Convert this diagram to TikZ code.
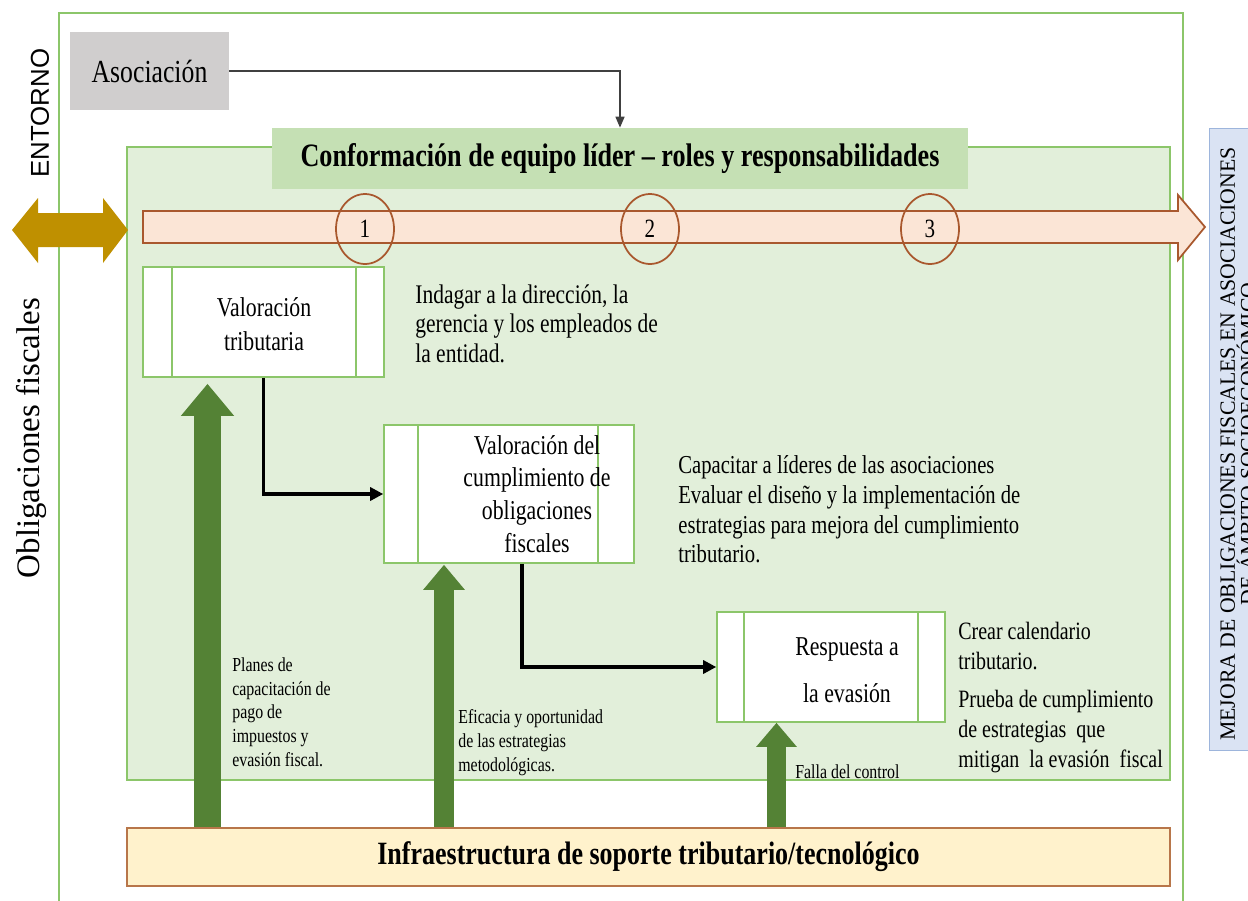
\documentclass[tikz,border=0pt]{standalone}
\usepackage{fontspec}
\setmainfont[FakeStretch=0.8]{Liberation Serif}
\newfontfamily\rectoserif{Liberation Serif}
\newfontfamily\rectosans{Liberation Sans}
\usepackage{tikz}
\usetikzlibrary{calc,positioning,shapes.geometric,arrows.meta}

\definecolor{marcoverde}{HTML}{8CC66A}
\definecolor{panelverde}{HTML}{E2EFDA}
\definecolor{tituloverde}{HTML}{C5E0B4}
\definecolor{grisasoc}{HTML}{D0CECE}
\definecolor{oro}{HTML}{BF9000}
\definecolor{rosa}{HTML}{FBE5D6}
\definecolor{cafe}{HTML}{A9582E}
\definecolor{verdeosc}{HTML}{548235}
\definecolor{crema}{HTML}{FFF2CC}
\definecolor{cafeclaro}{HTML}{B8764A}
\definecolor{azulclaro}{HTML}{DAE3F3}
\definecolor{azulborde}{HTML}{9DB5DC}

\tikzset{
  proceso/.style={draw=marcoverde,fill=white,line width=0.9pt},
  textobox/.style={align=center,inner sep=0pt,font=\fontsize{15.5}{19}\selectfont},
  texto/.style={anchor=north west,align=left,inner sep=0pt,font=\fontsize{15.3}{17}\selectfont},
  nota/.style={anchor=north west,align=left,inner sep=0pt,font=\fontsize{11.3}{13.6}\selectfont},
  conector/.style={draw=black,line width=1.8pt,-{Triangle[length=2.6mm,width=2.6mm]}},
  circulo/.style={ellipse,draw=cafe,line width=1pt,minimum width=1.16cm,minimum height=1.4cm,
    inner sep=0pt,font=\fontsize{15}{17}\selectfont}
}

\begin{document}
\begin{tikzpicture}[x=0.02cm,y=-0.02cm,inner sep=0.4mm]
\useasboundingbox (0,0) rectangle (1248,900);
\coordinate (g1) at (207.5,0);
\coordinate (g2) at (444,0);
\coordinate (g3) at (776.5,0);

\draw [marcoverde,line width=1pt] (59,905) -- (59,13) -- (1183,13) -- (1183,905);
\node [fill=azulclaro,draw=azulborde,line width=0.8pt,anchor=north west,
  minimum width=1.2cm,minimum height=12.44cm] (meta) at (1209,128) {};
\node [rotate=90,align=center,inner sep=0pt,font=\rectoserif\fontsize{12.4}{10.5}\selectfont]
  (metatxt) at (1238,444) {MEJORA DE OBLIGACIONES FISCALES EN ASOCIACIONES\\DE ÁMBITO SOCIOECONÓMICO};

\node [fill=panelverde,draw=marcoverde,line width=1pt,minimum width=20.86cm,
  minimum height=12.66cm] (panel) at (648.5,463.5) {};
\node [fill=grisasoc,minimum width=3.18cm,minimum height=1.56cm,
  font=\fontsize{18.3}{20}\selectfont] (asoc) at (149.5,71) {Asociación};
\node [fill=tituloverde,minimum width=13.92cm,minimum height=1.22cm,
  font=\bfseries\fontsize{18.6}{20}\selectfont] (titulo) at (620,158.5)
  {Conformación de equipo líder -- roles y responsabilidades};
\draw [black!75,line width=0.9pt,-{Triangle[length=2.2mm,width=1.8mm]}] (asoc.east) -| (titulo.north);

\node [rotate=90,font=\rectosans\fontsize{14.7}{16}\selectfont] (entorno) at (40,113) {ENTORNO};
\node [rotate=90,font=\rectoserif\fontsize{18.7}{20}\selectfont] (oblig) at (31,438) {Obligaciones fiscales};
\fill [oro] (12,230) -- (38,198) -- (38,213) -- (103,213) -- (103,198) -- (128,230)
  -- (103,263) -- (103,247) -- (38,247) -- (38,263) -- cycle;

\filldraw [draw=cafe,fill=rosa,line width=1pt] (143,211) -- (1178,211) -- (1178,195)
  -- (1205,227) -- (1178,260) -- (1178,243) -- (143,243) -- cycle;
\node [circulo] (c1) at (365,229) {1};
\node [circulo] (c2) at (650,229) {2};
\node [circulo] (c3) at (930,229) {3};

\node [proceso,minimum width=4.82cm,minimum height=2.2cm] (val) at (263.5,322) {};
\draw [marcoverde,line width=0.9pt] ([xshift=0.6cm]val.north west) -- ([xshift=0.6cm]val.south west)
  ([xshift=-0.58cm]val.north east) -- ([xshift=-0.58cm]val.south east);
\node [textobox] (valtxt) at (264,324) {Valoración\\tributaria};

\node [proceso,minimum width=5cm,minimum height=2.76cm] (cumpl) at (509,494) {};
\draw [marcoverde,line width=0.9pt] ([xshift=0.7cm]cumpl.north west) -- ([xshift=0.7cm]cumpl.south west)
  ([xshift=-0.74cm]cumpl.north east) -- ([xshift=-0.74cm]cumpl.south east);
\node [textobox,font=\fontsize{15.5}{18.7}\selectfont] (cumpltxt) at (537,494)
  {Valoración del\\cumplimiento de\\obligaciones\\fiscales};

\node [proceso,minimum width=4.56cm,minimum height=2.2cm] (resp) at (831,667) {};
\draw [marcoverde,line width=0.9pt] ([xshift=0.56cm]resp.north west) -- ([xshift=0.56cm]resp.south west)
  ([xshift=-0.56cm]resp.north east) -- ([xshift=-0.56cm]resp.south east);
\node [textobox,font=\fontsize{15.5}{27}\selectfont] (resptxt) at (847,670) {Respuesta a\\la evasión};

\node [texto] (t1) at (415,284) {Indagar a la dirección, la\\gerencia y los empleados de\\la entidad.};
\node [texto,font=\fontsize{14.7}{17}\selectfont] (t2) at (678,455) {Capacitar a líderes de las asociaciones\\Evaluar el diseño y la implementación de\\estrategias para mejora del cumplimiento\\tributario.};
\node [texto,font=\fontsize{14.2}{17}\selectfont] (t3) at (958,622) {Crear calendario\\tributario.\\[4.5pt]Prueba de cumplimiento\\de estrategias\ \ que\\mitigan\ \ la evasión\ \ fiscal};

\draw [conector] (val.south) |- (cumpl.west);
\draw [conector] ([xshift=0.26cm]cumpl.south) |- (resp.west);

\node [fill=crema,draw=cafeclaro,line width=1.3pt,minimum width=20.86cm,minimum height=1.16cm,
  font=\bfseries\fontsize{18.5}{20}\selectfont] (infra) at (648.5,857)
  {Infraestructura de soporte tributario/tecnológico};

\draw [verdeosc,line width=0.54cm,-{Triangle[width=1.02cm,length=0.64cm]}]
  (infra.north -| g1) -- ($(val.south -| g1)+(0,6)$);
\draw [verdeosc,line width=0.4cm,-{Triangle[width=0.8cm,length=0.5cm]}]
  (infra.north -| g2) -- ($(cumpl.south -| g2)+(0,1)$);
\draw [verdeosc,line width=0.38cm,-{Triangle[width=0.78cm,length=0.48cm]}]
  (infra.north -| g3) -- (resp.south -| g3);

\node [nota] (n1) at (232,657) {Planes de\\capacitación de\\pago de\\impuestos y\\evasión fiscal.};
\node [nota] (n2) at (458,709) {Eficacia y oportunidad\\de las estrategias\\metodológicas.};
\node [nota] (n3) at (795,764) {Falla del control};
% entorno, eje 1-2-3, procesos y soporte
\end{tikzpicture}
\end{document}
